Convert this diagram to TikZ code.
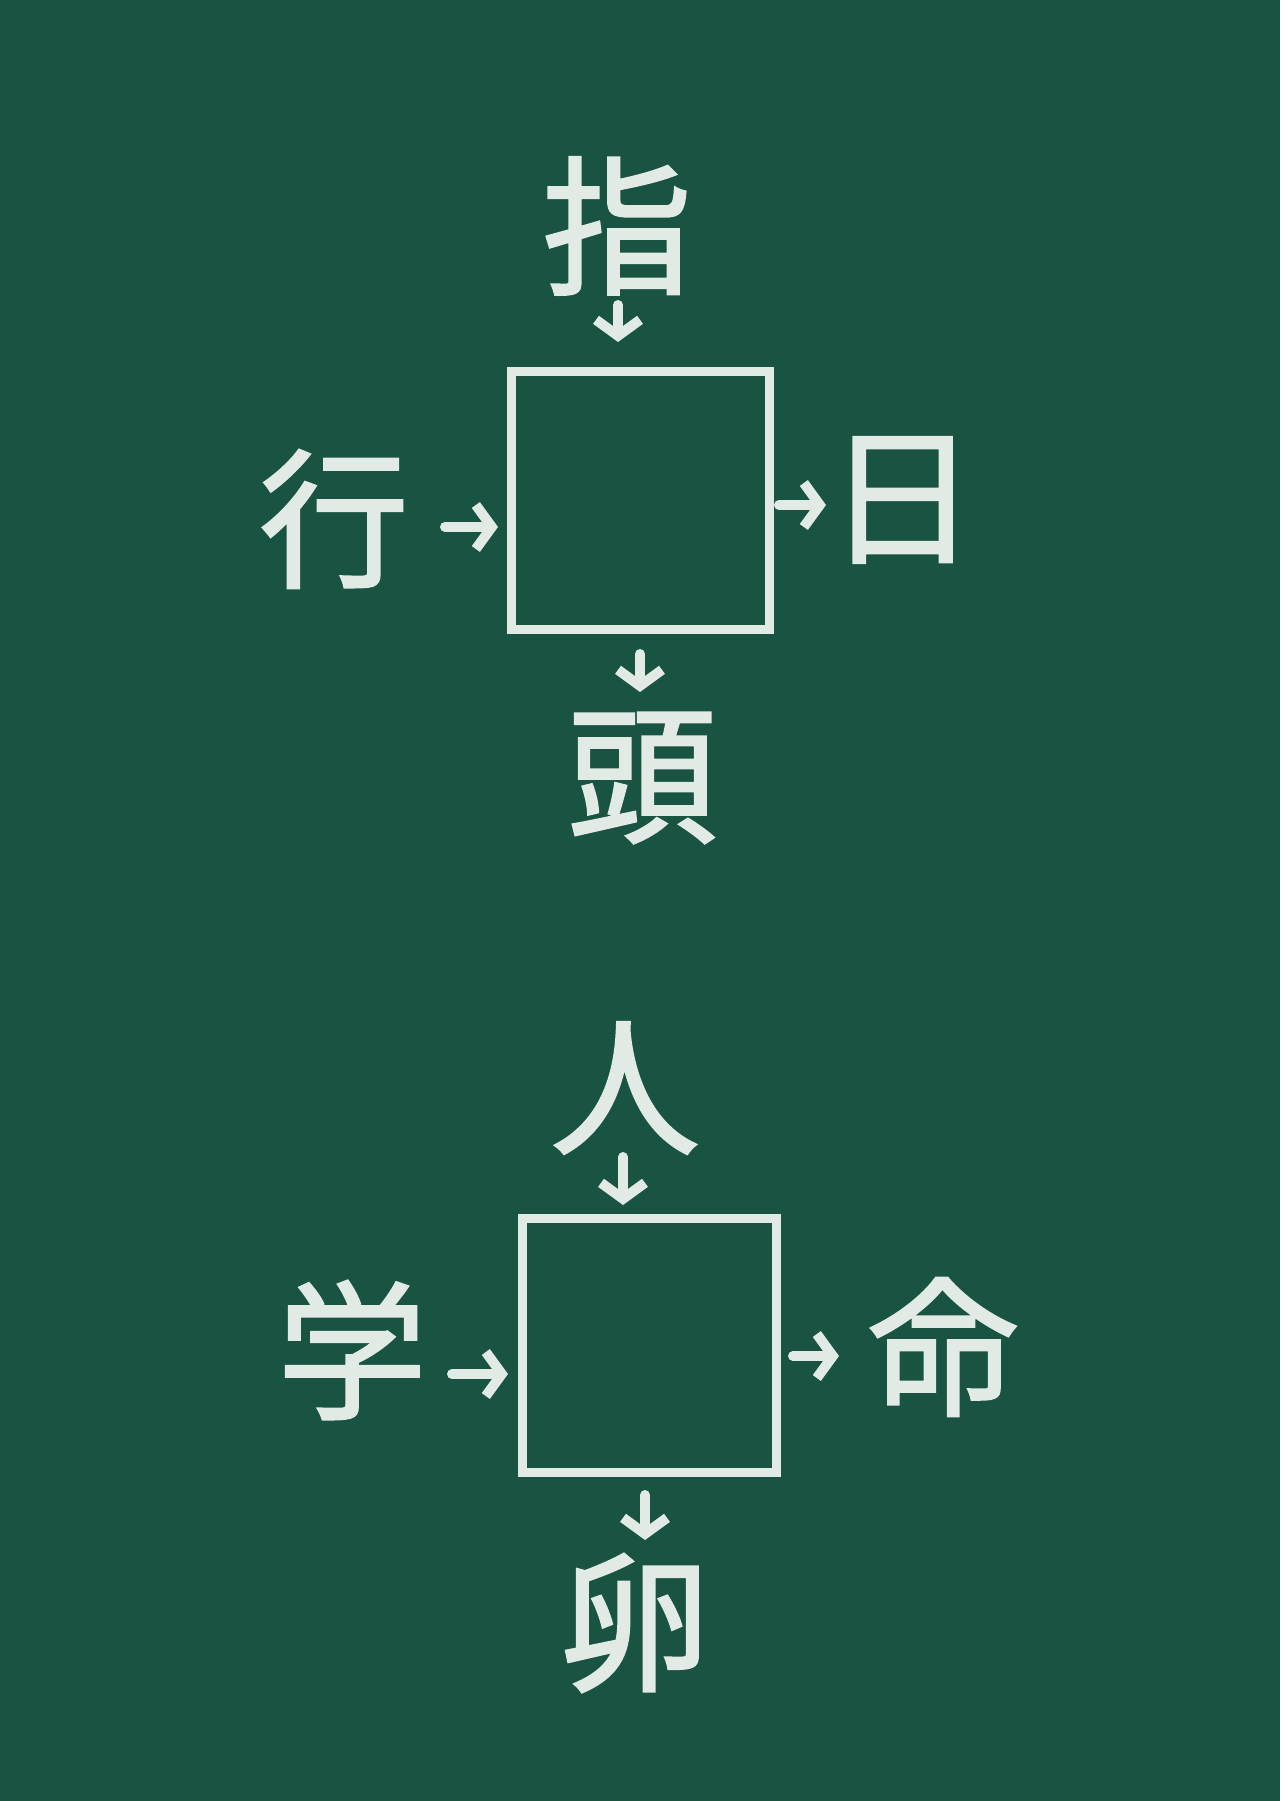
\documentclass[tikz,border=0pt]{standalone}
\usepackage{fontspec}
\newfontfamily\jp[FakeBold=1.5]{Noto Sans CJK JP}
\usetikzlibrary{arrows.meta}
\definecolor{board}{HTML}{195443}
\definecolor{chalk}{HTML}{E2EAE6}
\tikzset{
  box/.style={draw=chalk, line width=9pt, minimum width=#1, minimum height=#1, inner sep=0pt},
  kanji/.style={text=chalk, font=\jp\fontsize{150}{150}\selectfont, inner sep=0pt},
  arr/.style={draw=chalk, line width=10pt, line cap=round, -{Straight Barb[length=16pt, width=44pt, line width=10pt]}}
}
\begin{document}
\begin{tikzpicture}[x=1pt,y=-1pt]
\fill[board] (0,0) rectangle (1280,1801);
\useasboundingbox (0,0) rectangle (1280,1801);
% top puzzle
\node[box=258pt] (b1) at (640,500) {};
\node[kanji] (k1) at (617,226) {指};
\node[kanji] (k2) at (334,519) {行};
\node[kanji] (k3) at (902,500) {日};
\node[kanji] (k4) at (642,778) {頭};
\coordinate (a1s) at (618,305); \coordinate (a1e) at (618,342);
\coordinate (a2s) at (445,527); \coordinate (a2e) at (498,527);
\coordinate (a3s) at (779,505); \coordinate (a3e) at (826,505);
\coordinate (a4s) at (640,654); \coordinate (a4e) at (640,692);
\draw[arr] (a1s) -- (a1e);
\draw[arr] (a2s) -- (a2e);
\draw[arr] (a3s) -- (a3e);
\draw[arr] (a4s) -- (a4e);
% bottom puzzle
\node[box=254pt] (b2) at (649,1345) {};
\node[kanji] (k5) at (625,1088) {人};
\node[kanji] (k6) at (352,1350) {学};
\node[kanji] (k7) at (943,1347) {命};
\node[kanji] (k8) at (635,1623) {卵};
\coordinate (c1s) at (623,1157); \coordinate (c1e) at (623,1205);
\coordinate (c2s) at (452,1374); \coordinate (c2e) at (508,1374);
\coordinate (c3s) at (793,1356); \coordinate (c3e) at (839,1356);
\coordinate (c4s) at (645,1495); \coordinate (c4e) at (645,1540);
\draw[arr] (c1s) -- (c1e);
\draw[arr] (c2s) -- (c2e);
\draw[arr] (c3s) -- (c3e);
\draw[arr] (c4s) -- (c4e);
\end{tikzpicture}
\end{document}
